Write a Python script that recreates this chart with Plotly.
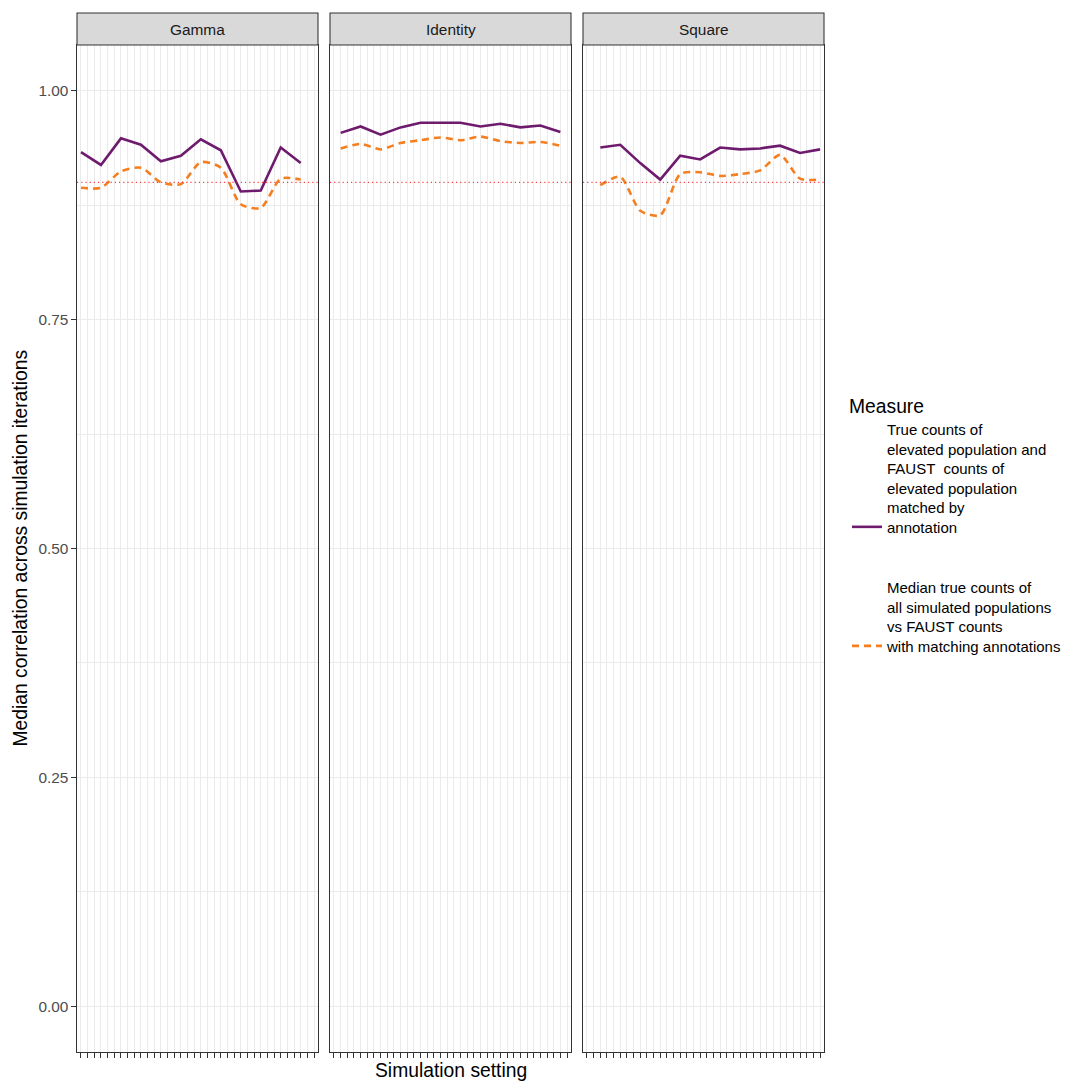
import plotly.graph_objects as go

# ---------------- data ----------------
settings = [f"setting_{i:02d}" for i in range(1, 37)]
panels = ["Gamma", "Identity", "Square"]

gamma_settings = settings[0::3]
identity_settings = settings[1::3]
square_settings = settings[2::3]

gamma_elevated = [0.933, 0.919, 0.948, 0.941, 0.923, 0.929, 0.947, 0.935, 0.890, 0.891, 0.938, 0.921]
gamma_median = [0.894, 0.894, 0.912, 0.916, 0.900, 0.898, 0.922, 0.916, 0.876, 0.872, 0.904, 0.903]

identity_elevated = [0.954, 0.961, 0.952, 0.960, 0.965, 0.965, 0.965, 0.961, 0.964, 0.960, 0.962, 0.955]
identity_median = [0.937, 0.942, 0.936, 0.943, 0.946, 0.949, 0.946, 0.950, 0.945, 0.943, 0.944, 0.940]

square_elevated = [0.938, 0.941, 0.921, 0.903, 0.929, 0.925, 0.938, 0.936, 0.937, 0.940, 0.932, 0.936]
square_median = [0.897, 0.906, 0.869, 0.864, 0.909, 0.911, 0.907, 0.909, 0.913, 0.930, 0.904, 0.903]

threshold = 0.9
y_ticks = [0.0, 0.25, 0.5, 0.75, 1.0]
y_tick_labels = ["0.00", "0.25", "0.50", "0.75", "1.00"]
y_minor = [0.125, 0.375, 0.625, 0.875]

measure_names = [
    "True counts of<br>elevated population and<br>FAUST  counts of<br>elevated population<br>matched by<br>annotation",
    "Median true counts of<br>all simulated populations<br>vs FAUST counts<br>with matching annotations",
]

# ---------------- styling ----------------
W, H = 1073, 1082
FONT = "Liberation Sans"
PURPLE = "#6E1B6E"
ORANGE = "#F57F20"
panel_px = [(77, 318), (330, 571), (583, 824)]
panel_top, panel_bottom = 45, 1052
strip_top = 13

x_domains = [[a / W, b / W] for a, b in panel_px]
y_domain = [(H - panel_bottom) / H, (H - panel_top) / H]
strip_y = [(H - panel_top) / H, (H - strip_top) / H]

series = [
    (gamma_settings, gamma_elevated, gamma_median),
    (identity_settings, identity_elevated, identity_median),
    (square_settings, square_elevated, square_median),
]

fig = go.Figure()
for i, (xs, ys_el, ys_med) in enumerate(series):
    xa = "x" if i == 0 else f"x{i+1}"
    ya = "y" if i == 0 else f"y{i+1}"
    fig.add_trace(go.Scatter(
        x=xs, y=ys_el, mode="lines", xaxis=xa, yaxis=ya,
        line=dict(color=PURPLE, width=2.6),
        name=measure_names[0], legendgroup="a", showlegend=(i == 0),
    ))
    fig.add_trace(go.Scatter(
        x=xs, y=ys_med, mode="lines", xaxis=xa, yaxis=ya,
        line=dict(color=ORANGE, width=2.6, dash="7px,5px", shape="spline", smoothing=0.7),
        name=measure_names[1], legendgroup="b", showlegend=(i == 0),
    ))

layout = dict(
    width=W, height=H,
    margin=dict(l=0, r=0, t=0, b=0),
    paper_bgcolor="white", plot_bgcolor="white",
    font=dict(family=FONT, size=15.4, color="#1A1A1A"),
    showlegend=True,
    legend=dict(
        x=847 / W, y=(H - 388) / H, xanchor="left", yanchor="top",
        title=dict(text="Measure", font=dict(size=19.3, color="black")),
        font=dict(size=15, color="black"),
        tracegroupgap=38, valign="bottom", bgcolor="rgba(0,0,0,0)",
    ),
)

for i in range(3):
    xs = "xaxis" if i == 0 else f"xaxis{i+1}"
    ys = "yaxis" if i == 0 else f"yaxis{i+1}"
    ya = "y" if i == 0 else f"y{i+1}"
    xa = "x" if i == 0 else f"x{i+1}"
    layout[xs] = dict(
        domain=x_domains[i], anchor=ya, type="category",
        categoryorder="array", categoryarray=settings,
        range=[-0.6, len(settings) - 1 + 0.6],
        tickmode="linear", tick0=0, dtick=1,
        showgrid=True, gridcolor="#EBEBEB", gridwidth=1.07,
        showline=True, linecolor="#333333", linewidth=1.07, mirror=True,
        ticks="outside", ticklen=4.5, tickcolor="#333333", tickwidth=1.07,
        showticklabels=False, zeroline=False, fixedrange=True,
    )
    layout[ys] = dict(
        domain=y_domain, anchor=xa, range=[-0.05, 1.05],
        tickvals=y_ticks, ticktext=y_tick_labels,
        showticklabels=(i == 0),
        tickfont=dict(size=15.4, color="#4D4D4D"),
        showgrid=True, gridcolor="#EBEBEB", gridwidth=1.07,
        minor=dict(tickvals=y_minor, showgrid=True, gridcolor="#EBEBEB", gridwidth=0.55, ticks=""),
        showline=True, linecolor="#333333", linewidth=1.07, mirror=True,
        ticks="outside" if i == 0 else "", ticklen=4.5, tickcolor="#333333", tickwidth=1.07,
        zeroline=False, fixedrange=True,
    )
    if i > 0:
        layout[ys]["matches"] = "y"

fig.update_layout(**layout)

shapes = []
annotations = []
for i, name in enumerate(panels):
    xa = "x" if i == 0 else f"x{i+1}"
    ya = "y" if i == 0 else f"y{i+1}"
    shapes.append(dict(
        type="line", xref=f"{xa} domain", yref=ya, x0=0, x1=1, y0=threshold, y1=threshold,
        line=dict(color="#FF3B3B", width=1.2, dash="1.2px,3px"), layer="above",
    ))
    shapes.append(dict(
        type="rect", xref="paper", yref="paper",
        x0=x_domains[i][0], x1=x_domains[i][1], y0=strip_y[0], y1=strip_y[1],
        fillcolor="#D9D9D9", line=dict(color="#333333", width=1.07), layer="above",
    ))
    annotations.append(dict(
        text=name, xref="paper", yref="paper",
        x=(x_domains[i][0] + x_domains[i][1]) / 2, y=(strip_y[0] + strip_y[1]) / 2,
        xanchor="center", yanchor="middle", showarrow=False,
        font=dict(size=15.4, color="#1A1A1A", family=FONT),
    ))

annotations.append(dict(
    text="Simulation setting", xref="paper", yref="paper",
    x=(panel_px[0][0] + panel_px[2][1]) / 2 / W, y=(H - 1070) / H,
    xanchor="center", yanchor="middle", showarrow=False,
    font=dict(size=19.3, color="black", family=FONT),
))
annotations.append(dict(
    text="Median correlation across simulation iterations", xref="paper", yref="paper",
    x=20 / W, y=(H - (panel_top + panel_bottom) / 2) / H, textangle=-90,
    xanchor="center", yanchor="middle", showarrow=False,
    font=dict(size=19.3, color="black", family=FONT),
))

fig.update_layout(shapes=shapes, annotations=annotations)
fig.write_html(
    "out.html",
    config={"displayModeBar": False},
    post_script="document.body.style.margin='0px';document.body.style.padding='0px';",
)
